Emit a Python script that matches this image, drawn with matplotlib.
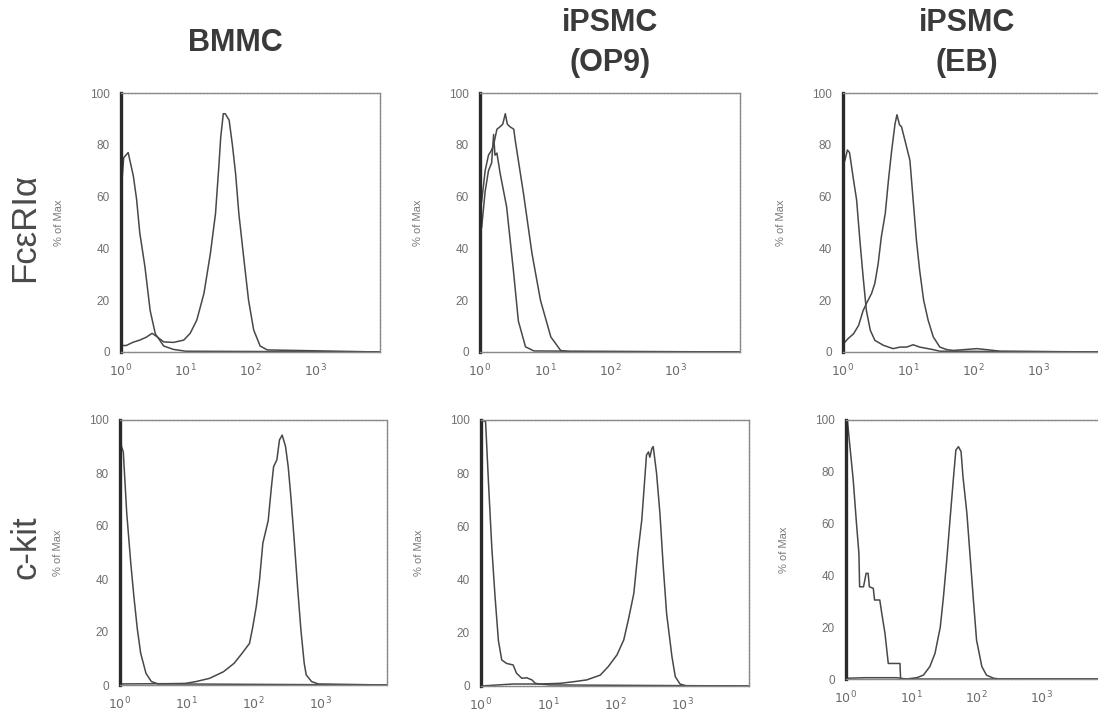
import numpy as np
import matplotlib
matplotlib.use("Agg")
import matplotlib.pyplot as plt

plt.rcParams["font.family"] = ["Liberation Sans", "DejaVu Sans"]

col_titles = [["BMMC"], ["iPSMC", "(OP9)"], ["iPSMC", "(EB)"]]
row_labels = ["FcεRIα", "c-kit"]
y_ticks = [0, 20, 40, 60, 80, 100]
x_ticks = [1, 10, 100, 1000]
x_ticklabels = ["$10^0$", "$10^1$", "$10^2$", "$10^3$"]

# FcεRIα, BMMC
fc_bmmc_iso_x = [1.0, 1.10, 1.29, 1.55, 1.74, 1.95, 2.34, 2.82, 3.39, 4.57, 6.46, 10, 10000]
fc_bmmc_iso_y = [61, 75, 77, 68, 59, 46, 33, 16, 7, 2.3, 1, 0.3, 0]
fc_bmmc_x = [1.0, 1.20, 1.55, 1.95, 2.45, 3.02, 3.55, 4.57, 6.46, 9.33, 11.7, 14.8, 19.1, 24.0,
             28.8, 32.4, 34.7, 38.0, 40.7, 46.8, 52.5, 58.9, 66.1, 79.4, 93.3, 112, 141, 182, 10000]
fc_bmmc_y = [2.5, 2.5, 3.8, 4.6, 5.7, 7.2, 6, 3.9, 3.7, 4.6, 7.2, 12.3, 22.6, 38,
             53.4, 71.5, 83, 92, 92, 89.5, 80, 68.8, 53.4, 35.4, 20, 8.5, 2.3, 0.8, 0]

# FcεRIα, iPSMC (OP9)
fc_op9_iso_x = [1.0, 1.06, 1.20, 1.35, 1.51, 1.62, 1.70, 1.82, 2.04, 2.57, 3.31, 3.89, 5.01, 6.76, 10000]
fc_op9_iso_y = [50, 48, 62, 70, 73, 84, 76, 76.8, 69, 56, 30, 12, 2, 0.4, 0]
fc_op9_x = [1.0, 1.06, 1.20, 1.35, 1.51, 1.62, 1.82, 2.04, 2.24, 2.45, 2.63, 2.88, 3.31, 3.47,
            4.68, 6.31, 8.51, 12.3, 17.4, 25.1, 10000]
fc_op9_y = [55, 58, 70, 76, 78, 80, 86, 87, 88, 92, 88, 87, 86, 82,
            61, 38, 20, 5.8, 0.6, 0, 0]

# FcεRIα, iPSMC (EB)
fc_eb_iso_x = [1.0, 1.07, 1.17, 1.26, 1.45, 1.62, 1.82, 2.04, 2.29, 2.63, 3.09, 4.17, 5.89, 7.59,
               9.55, 12.0, 15.1, 24.5, 30.9, 10000]
fc_eb_iso_y = [72, 74, 78, 77, 66.5, 58.7, 43, 29, 16, 8.4, 4.5, 2.6, 1.3, 1.9,
               1.9, 2.8, 1.9, 0.9, 0.3, 0]
fc_eb_x = [1.0, 1.20, 1.45, 1.74, 2.04, 2.29, 2.75, 3.09, 3.47, 3.89, 4.47, 5.01, 5.62, 6.31,
           6.76, 7.41, 7.94, 9.55, 10.7, 12.0, 13.5, 15.1, 17.4, 20.4, 24.5, 30.9, 39.8, 50.1,
           115, 162, 263, 10000]
fc_eb_y = [3, 5.2, 7, 10.3, 16, 18.7, 22.6, 26.5, 34, 44.5, 53.5, 66.5, 78, 88,
           91.6, 87.7, 87, 79, 74, 58.7, 43, 31.6, 20, 12.3, 5.8, 1.9, 0.9, 0.6,
           1.3, 0.9, 0.3, 0]

# c-kit, BMMC
kit_bmmc_iso_x = [1.0, 1.01, 1.05, 1.12, 1.26, 1.45, 1.62, 1.82, 2.04, 2.45, 2.95, 3.72, 5.25, 10000]
kit_bmmc_iso_y = [100, 99, 90, 88, 65, 46, 33, 21, 12, 4.4, 1.3, 0.4, 0.4, 0]
kit_bmmc_x = [1.0, 5.25, 9.55, 13.8, 21.9, 35.5, 51.3, 67.6, 87.1, 97.7, 110, 123, 138, 166, 186,
              200, 224, 245, 269, 302, 331, 363, 407, 457, 513, 575, 617, 741, 933, 10000]
kit_bmmc_y = [0.4, 0.5, 0.6, 1.3, 2.5, 5, 8.2, 12, 15.7, 22, 29.6, 39.6, 53.5, 62, 75,
              82.4, 85, 92.5, 94.3, 90, 82.4, 71, 54.7, 37, 20.8, 8.2, 3.8, 1.3, 0.4, 0]

# c-kit, iPSMC (OP9)
kit_op9_iso_x = [1.0, 1.17, 1.29, 1.45, 1.62, 1.82, 2.04, 2.40, 3.02, 3.39, 4.07, 4.79, 5.75, 6.46,
                 7.59, 10.7, 10000]
kit_op9_iso_y = [100, 99.4, 77, 52, 33.6, 17, 9.8, 8.5, 7.9, 4.8, 2.9, 3.1, 2.3, 1,
                 0.75, 0.4, 0]
kit_op9_x = [1.0, 3.02, 7.59, 15.1, 24.0, 38.0, 60.3, 79.4, 107, 135, 158, 191, 219, 251, 282,
             295, 316, 331, 355, 372, 417, 468, 525, 589, 708, 794, 933, 1175, 10000]
kit_op9_y = [0, 0.75, 0.75, 1, 1.6, 2.3, 4.1, 7.3, 11.7, 17.3, 24.8, 34.8, 49.9, 62.4, 80,
             86.8, 88, 86, 89.3, 90, 80, 65, 44.9, 27.3, 11, 3.5, 0.75, 0, 0]

# c-kit, iPSMC (EB)
kit_eb_iso_x = [1.0, 1.05, 1.15, 1.29, 1.45, 1.58, 1.62, 1.86, 2.04, 2.19, 2.29, 2.63, 2.75, 3.31,
                3.55, 3.98, 4.47, 6.76, 6.92, 10000]
kit_eb_iso_y = [100, 100, 89.7, 77, 60, 48.5, 35.6, 35.6, 40.8, 40.8, 35.6, 35, 30.5, 30.5,
                25.3, 17.6, 6, 6, 0, 0]
kit_eb_x = [1.0, 1.07, 2.0, 6.0, 8.51, 12.3, 15.5, 19.5, 23.4, 28.2, 31.6, 35.5, 39.8, 44.7,
            49.0, 53.7, 58.9, 63.1, 72.4, 81.3, 91.2, 102, 123, 145, 186, 234, 10000]
kit_eb_y = [0.3, 0.3, 0.5, 0.5, 0, 0.5, 1.5, 4.8, 9.9, 20, 31.8, 46, 61.4, 76.8,
            88.4, 89.7, 87.8, 78, 64, 47.2, 30.5, 15, 4.8, 1.5, 0.3, 0, 0]

panels = [
    [(fc_bmmc_iso_x, fc_bmmc_iso_y, fc_bmmc_x, fc_bmmc_y),
     (fc_op9_iso_x, fc_op9_iso_y, fc_op9_x, fc_op9_y),
     (fc_eb_iso_x, fc_eb_iso_y, fc_eb_x, fc_eb_y)],
    [(kit_bmmc_iso_x, kit_bmmc_iso_y, kit_bmmc_x, kit_bmmc_y),
     (kit_op9_iso_x, kit_op9_iso_y, kit_op9_x, kit_op9_y),
     (kit_eb_iso_x, kit_eb_iso_y, kit_eb_x, kit_eb_y)],
]

# axes boxes in pixels: left, right, top, bottom
boxes = [
    [(121, 380, 93, 352), (480, 740, 93, 352), (843, 1103, 93, 352)],
    [(120, 387, 420, 685), (481, 749, 420, 686), (846, 1106, 420, 679)],
]

W, H = 1098, 717
fig = plt.figure(figsize=(W / 100, H / 100), dpi=100)
line_col = "#484848"

for r in range(2):
    for c in range(3):
        l, rt, t, b = boxes[r][c]
        ax = fig.add_axes([l / W, 1 - b / H, (rt - l) / W, (b - t) / H])
        iso_x, iso_y, st_x, st_y = panels[r][c]
        ax.plot(iso_x, iso_y, color=line_col, lw=1.1)
        ax.plot(st_x, st_y, color=line_col, lw=1.1)
        ax.set_xscale("log")
        ax.set_xlim(1, 10000)
        ax.set_ylim(0, 100)
        ax.set_xticks(x_ticks)
        ax.set_xticklabels(x_ticklabels)
        ax.minorticks_off()
        ax.set_yticks(y_ticks)
        ax.tick_params(axis="y", length=0, pad=8, labelsize=8.5, labelcolor="#707070")
        ax.tick_params(axis="x", length=0, pad=8, labelsize=9, labelcolor="#6a6a6a")
        for s in ["top", "right", "bottom"]:
            ax.spines[s].set_color("#8a8a8a")
            ax.spines[s].set_linewidth(1.0)
            ax.spines[s].set_linestyle((0, (2, 0.6)))
        ax.spines["left"].set_color("#2a2a2a")
        ax.spines["left"].set_linewidth(2.4)
        ax.set_ylabel("% of Max", fontsize=8, color="#7a7a7a")
        ax.yaxis.set_label_coords(-57 / (rt - l), 0.5)

title_x = [235, 610, 967]
title_y = [[43], [23, 63], [23, 63]]
for c in range(3):
    for line, ty in zip(col_titles[c], title_y[c]):
        fig.text(title_x[c] / W, 1 - ty / H, line, ha="center", va="center",
                 fontsize=22, fontweight="bold", color="#3a3a3a")

fig.text(25 / W, 1 - 228 / H, row_labels[0], rotation=90, ha="center", va="center",
         fontsize=25, color="#4a4a4a")
fig.text(26 / W, 1 - 547 / H, row_labels[1], rotation=90, ha="center", va="center",
         fontsize=25, color="#4a4a4a")

fig.savefig("out.png", dpi=100, facecolor="white")
